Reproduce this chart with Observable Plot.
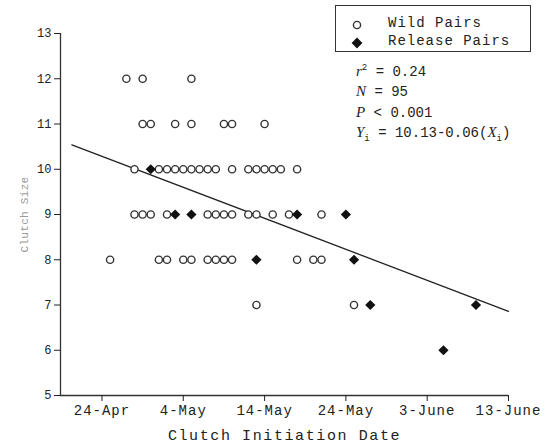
<!DOCTYPE html>
<html><head><meta charset="utf-8">
<script src="https://cdn.jsdelivr.net/npm/d3@7"></script>
<script src="https://cdn.jsdelivr.net/npm/@observablehq/plot@0.6"></script>
<style>
body{margin:0;background:#fff}
#wrap{position:relative;width:554px;height:448px;background:#fff}
#wrap svg text{font-family:"Liberation Mono",monospace}
g[aria-label="x-axis tick label"] text{font-size:14px;letter-spacing:1px;fill:#222}
g[aria-label="x-axis label"] text{font-size:15px;letter-spacing:1.6px;fill:#222}
g[aria-label="y-axis tick label"] text{font-family:"Liberation Sans",sans-serif;font-size:12px;fill:#222}
g[aria-label="y-axis label"] text{font-size:11px;letter-spacing:0.3px;fill:#999}
#legend{position:absolute;left:335px;top:5px;width:194px;height:45px;border:1.5px solid #333;font-family:"Liberation Mono",monospace;font-size:14px;letter-spacing:1px;color:#222}
#legend .row{position:absolute;left:0;height:18px;line-height:18px;white-space:nowrap}
#legend svg{position:absolute;left:14px;top:4px}
#legend span{position:absolute;left:52px;top:0}
#stats{position:absolute;left:356px;top:62px;font-family:"Liberation Mono",monospace;font-size:14px;color:#222;line-height:19.4px;white-space:nowrap}
#stats i{font-family:"Liberation Serif",serif;font-style:italic;font-size:15px}
#stats sup{font-size:9px;vertical-align:6px;line-height:0}
#stats sub{font-size:9px;vertical-align:-4px;line-height:0}
</style></head><body><div id="wrap"></div>
<script>
// Wild pairs (open circles): day offset from 24-Apr, clutch size
const wildDays  = [3,5,11,
                   5,6,9,11,15,16,20,
                   4,7,8,9,10,11,12,13,14,16,18,19,20,21,22,24,
                   4,5,6,8,13,14,15,16,18,19,21,23,27,
                   1,7,8,10,11,13,14,15,16,24,26,27,
                   19,31];
const wildSizes = [12,12,12,
                   11,11,11,11,11,11,11,
                   10,10,10,10,10,10,10,10,10,10,10,10,10,10,10,10,
                   9,9,9,9,9,9,9,9,9,9,9,9,9,
                   8,8,8,8,8,8,8,8,8,8,8,8,
                   7,7];
// Release pairs (filled diamonds)
const releaseDays  = [6, 9,11,24,30, 19,31, 33,46, 42];
const releaseSizes = [10, 9,9,9,9, 8,8, 7,7, 6];
// Regression line end points
const regressionDays  = [-3.7, 50];
const regressionSizes = [10.54, 6.86];
// Axis ticks
const xTickDays   = [0,10,20,30,40,50];
const xTickLabels = ["24-Apr","4-May","14-May","24-May","3-June","13-June"];
const yTicks      = [5,6,7,8,9,10,11,12,13];
const xStart = -5.1, xEnd = 50;

const wild = wildDays.map((d,i)=>({day:d,size:wildSizes[i]}));
const release = releaseDays.map((d,i)=>({day:d,size:releaseSizes[i]}));
const reg = regressionDays.map((d,i)=>({day:d,size:regressionSizes[i]}));

const plot = Plot.plot({
  width:554, height:448,
  marginLeft:60, marginRight:46, marginTop:33, marginBottom:53,
  style:{background:"#fff", color:"#222"},
  x:{domain:[xStart,xEnd]},
  y:{domain:[5,13]},
  marks:[
    Plot.ruleX([xStart],{stroke:"#333",strokeWidth:1.3}),
    Plot.ruleY([5],{stroke:"#333",strokeWidth:1.3}),
    Plot.axisY(yTicks,{tickSize:6,tickPadding:3,label:"Clutch Size",labelAnchor:"center",labelArrow:"none",labelOffset:40}),
    Plot.axisX(xTickDays,{tickSize:6,tickPadding:4,tickFormat:d=>xTickLabels[xTickDays.indexOf(d)],label:"Clutch Initiation Date",labelAnchor:"center",labelArrow:"none",labelOffset:44}),
    Plot.line(reg,{x:"day",y:"size",stroke:"#222",strokeWidth:1.3}),
    Plot.dot(wild,{x:"day",y:"size",symbol:"circle",r:3.6,stroke:"#333",strokeWidth:1.4,fill:"white"}),
    Plot.dot(release,{x:"day",y:"size",symbol:"diamond2",r:4.6,fill:"#111",stroke:"none"})
  ]
});
const wrap = document.getElementById("wrap");
wrap.appendChild(plot);

const legend = document.createElement("div");
legend.id = "legend";
legend.innerHTML = `
<div class="row" style="top:8px"><svg width="14" height="14"><circle cx="7" cy="7" r="3.6" fill="white" stroke="#333" stroke-width="1.4"/></svg><span>Wild Pairs</span></div>
<div class="row" style="top:26px"><svg width="14" height="14"><path d="M7,1.6L12.4,7L7,12.4L1.6,7Z" fill="#111"/></svg><span>Release Pairs</span></div>`;
wrap.appendChild(legend);

const stats = document.createElement("div");
stats.id = "stats";
stats.innerHTML = `<div><i>r</i><sup>2</sup> = 0.24</div><div><i>N</i> = 95</div><div><i>P</i> &lt; 0.001</div><div><i>Y</i><sub>i</sub> = 10.13-0.06(<i>X</i><sub>i</sub>)</div>`;
wrap.appendChild(stats);
</script></body></html>
